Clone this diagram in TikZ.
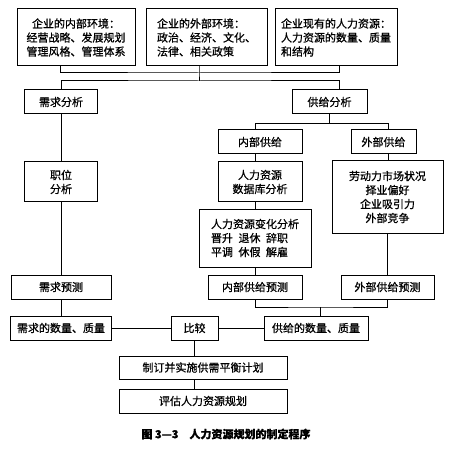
\documentclass[tikz,border=0pt]{standalone}
\usepackage{fontspec}
\setmainfont{Noto Sans CJK SC}[FakeBold=0.8]
\usetikzlibrary{positioning, calc}

\begin{document}
\begin{tikzpicture}[x=1pt, y=-1pt, line width=1pt,
  box/.style={rectangle, draw, align=center, inner sep=2pt, font=\fontsize{11pt}{14pt}\selectfont},
  lbox/.style={box, align=left}]

\useasboundingbox (0,0) rectangle (456,452);

% Environment boxes
\node[box, minimum width=118pt, minimum height=57pt] (inner) at (76,37.5) {企业的内部环境：\\经营战略、发展规划\\管理风格、管理体系};
\node[lbox, minimum width=121pt, minimum height=57pt] (outer) at (206.5,37.5) {企业的外部环境：\\政治、经济、文化、\\法律、相关政策};
\node[lbox, minimum width=122pt, minimum height=57pt] (hrnow) at (336,37.5) {企业现有的人力资源：\\人力资源的数量、质量\\和结构};

% Analysis
\node[box, minimum width=73pt, minimum height=24pt] (xqfx) at (61,102) {需求分析};
\node[box, minimum width=75pt, minimum height=24pt] (gjfx) at (329.5,102) {供给分析};

% Demand side
\node[box, minimum width=73pt, minimum height=40pt] (zwfx) at (61,182) {职位\\分析};
\node[box, minimum width=100pt, minimum height=24pt] (xqyc) at (61,287) {需求预测};
\node[box, minimum width=101pt, minimum height=24pt] (xqsl) at (61,328) {需求的数量、质量};

% Supply side
\node[box, minimum width=84pt, minimum height=24pt] (nbgj) at (260,142) {内部供给};
\node[box, minimum width=65pt, minimum height=24pt] (wbgj) at (383.5,142) {外部供给};
\node[box, minimum width=84pt, minimum height=40pt] (sjk) at (260,182) {人力资源\\数据库分析};
\node[lbox, minimum width=112pt, minimum height=58pt] (bhfx) at (255,238) {人力资源变化分析\\晋升\hspace{0.5em}退休\hspace{0.5em}辞职\\平调\hspace{0.5em}休假\hspace{0.5em}解雇};
\node[box, minimum width=111pt, minimum height=72pt] (ldl) at (387.5,197) {劳动力市场状况\\择业偏好\\企业吸引力\\外部竞争};
\node[box, minimum width=94pt, minimum height=24pt] (nbyc) at (255,287) {内部供给预测};
\node[box, minimum width=93pt, minimum height=24pt] (wbyc) at (387.5,287) {外部供给预测};
\node[box, minimum width=104pt, minimum height=24pt] (gysl) at (316,328) {供给的数量、质量};

% Comparison and plan
\node[box, minimum width=47pt, minimum height=24pt] (bj) at (194.5,328) {比较};
\node[box, minimum width=168pt, minimum height=23pt] (zd) at (203,367.5) {制订并实施供需平衡计划};
\node[box, minimum width=168pt, minimum height=24pt, below=9pt of zd] (pg) {评估人力资源规划};

% Caption
\node[font=\fontsize{11pt}{14pt}\selectfont\bfseries] (cap) at (226,434) {图 3—3\quad 人力资源规划的制定程序};

% Top connectors
\coordinate (bus1) at (199,73);
\coordinate (bus2) at (199,81);
\draw ([xshift=-16pt]inner.south) |- (bus1) -| ([xshift=3pt]hrnow.south);
\draw ([xshift=-7.5pt]outer.south) -- (bus1) -- (bus2);
\draw (xqfx.north) |- (bus2) -| ([xshift=9.5pt]gjfx.north);

% Demand column
\draw (xqfx) -- (zwfx);
\draw (zwfx) -- (xqyc);
\draw (xqyc) -- (xqsl);

% Supply columns
\draw (gjfx.south) -- ++(0,9) coordinate (sbus);
\draw ([xshift=-5pt]nbgj.north) |- (sbus) -| ([xshift=4.5pt]wbgj.north);
\draw ([xshift=-5pt]nbgj.south) -- ([xshift=-5pt]sjk.north);
\draw ([xshift=-5pt]sjk.south) -- (bhfx.north);
\draw (bhfx.south) -- (nbyc.north);
\draw ([xshift=4.5pt]wbgj.south) -- ([xshift=4.5pt]wbgj.south |- ldl.north);
\draw (ldl.south) -- (wbyc.north);
\coordinate (gbus) at (320,307);
\draw (nbyc.south) |- (gbus) -| (wbyc.south);
\draw (gbus) -- (gbus |- gysl.north);

% Comparison
\draw (xqsl) -- (bj);
\draw (bj) -- (gysl);
\draw (bj.south) -- (bj.south |- zd.north);
\draw (zd.south -| bj) -- (pg.north -| bj);

\end{tikzpicture}
\end{document}
